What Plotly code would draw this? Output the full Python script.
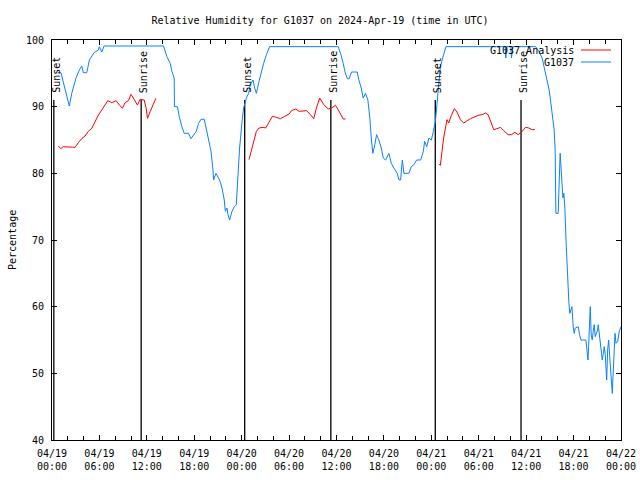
import pandas as pd
import plotly.graph_objects as go

START = pd.Timestamp("2024-04-19 00:00")

# G1037 observed relative humidity: hours since 2024-04-19 00:00 UTC, percent
obs_hours = [0.76, 1.14, 1.36, 1.65, 1.86, 2.07, 2.19, 2.50, 2.70, 3.04, 3.46, 3.76, 3.97, 4.40,
             4.73, 5.03, 5.32, 5.87, 5.99, 6.30, 6.59, 14.11, 14.54, 14.96, 15.17, 15.46, 15.50,
             15.88, 16.10, 16.44, 16.73, 17.28, 17.58, 17.83, 18.25, 18.55, 18.85, 19.27, 19.52,
             19.81, 20.12, 20.37, 20.45, 20.53, 20.75, 21.21, 21.51, 21.80, 21.93, 22.14, 22.27,
             22.47, 22.78, 23.07, 23.32, 23.54, 23.74, 24.05, 24.25, 24.59, 24.88, 25.10, 25.44,
             25.64, 25.86, 26.20, 26.49, 26.78, 27.13, 27.54, 36.21, 36.51, 36.85, 37.05, 37.36,
             37.61, 37.90, 38.62, 38.83, 39.13, 39.38, 39.68, 39.97, 40.22, 40.40, 40.60, 40.85,
             41.07, 41.36, 41.67, 41.92, 42.21, 42.63, 42.93, 43.26, 43.69, 43.90, 44.11, 44.33,
             44.53, 45.16, 45.47, 45.80, 46.14, 46.65, 46.99, 47.15, 47.41, 47.70, 48.00, 48.26,
             48.51, 48.71, 48.93, 49.14, 49.44, 49.69, 49.85, 57.36, 57.42, 57.55, 58.06, 58.14,
             58.31, 61.19, 61.61, 62.02, 62.36, 62.66, 62.91, 63.13, 63.34, 63.54, 63.67, 63.68,
             63.76, 64.05, 64.09, 64.18, 64.30, 64.39, 64.52, 64.65, 64.77, 64.90, 65.03, 65.15,
             65.28, 65.41, 65.53, 65.66, 65.79, 65.95, 66.08, 66.21, 66.59, 66.76, 66.93, 67.56,
             67.69, 67.82, 67.90, 68.03, 68.11, 68.23, 68.36, 68.49, 68.61, 68.74, 68.92, 69.04,
             69.12, 69.25, 69.37, 69.50, 69.63, 69.76, 69.88, 70.01, 70.14, 70.19, 70.31, 70.44,
             70.57, 70.69, 70.82, 70.90, 70.99, 71.11, 71.24, 71.37, 71.58, 71.78, 71.91, 72.00]
obs_rh = [95.1, 95.1, 94.0, 92.5, 91.5, 90.3, 90.1, 92.0, 93.0, 94.3, 95.5, 96.1, 95.1, 95.1,
          97.0, 97.5, 98.1, 98.5, 99.0, 98.2, 99.1, 99.1, 97.5, 96.5, 95.3, 94.3, 90.0,
          90.0, 88.5, 87.0, 86.0, 86.0, 85.2, 85.6, 86.3, 87.5, 88.1, 88.1, 86.8,
          85.3, 83.3, 80.5, 79.0, 79.3, 80.0, 79.0, 77.8, 76.0, 74.3, 74.8, 73.8,
          73.0, 74.3, 75.0, 75.3, 79.8, 83.8, 87.8, 89.8, 91.3, 92.0, 93.3, 94.0,
          92.8, 92.0, 93.8, 95.3, 96.5, 97.8, 99.0, 99.0, 98.0, 96.5, 95.3, 94.2,
          94.2, 95.2, 95.2, 94.0, 92.8, 91.3, 92.0, 91.0, 88.3, 85.3, 83.0, 84.3,
          85.8, 85.0, 83.8, 82.3, 82.0, 83.0, 81.5, 80.8, 80.0, 79.0, 79.0, 82.0,
          80.0, 80.0, 81.0, 81.3, 82.0, 82.0, 83.3, 84.8, 84.0, 85.3, 85.0, 86.3,
          87.8, 90.3, 93.8, 96.0, 97.3, 98.5, 99.0, 99.0, 97.3, 99.0, 99.0, 97.3,
          99.0, 99.0, 98.3, 97.3, 95.5, 93.8, 92.5, 90.5, 88.5, 86.5, 83.5, 77.3,
          74.0, 74.0, 76.3, 80.8, 83.0, 81.3, 77.8, 76.3, 77.0, 74.8, 70.3, 66.3,
          62.8, 60.5, 59.0, 59.8, 60.0, 57.0, 56.0, 56.8, 57.0, 55.8, 55.0, 55.0,
          53.8, 52.0, 54.0, 58.0, 60.0, 55.8, 55.0, 56.3, 57.3, 55.5, 56.3, 56.5,
          57.3, 55.8, 55.0, 52.8, 52.0, 53.0, 54.0, 52.8, 50.3, 49.0, 53.5, 55.0,
          52.5, 50.3, 48.0, 47.0, 49.5, 54.0, 56.0, 54.5, 54.8, 56.3, 57.0, 57.0]

# G1037 Analysis (three daily runs, None = gap)
ana_hours = [0.80, 1.10, 1.43, 1.86, 2.92, 3.33, 3.76, 4.18, 4.60, 5.03, 5.45, 5.87, 6.30, 6.72,
             7.06, 7.57, 8.11, 8.53, 8.91, 9.25, 9.67, 10.01, 10.39, 10.81, 11.15, 11.66, 11.92,
             12.08, 12.42, 12.84, 13.14, None,
             24.93, 25.22, 25.52, 25.86, 26.20, 26.71, 27.04, 27.47, 27.89, 28.39, 28.90, 29.45,
             30.00, 30.30, 30.84, 31.27, 31.78, 32.20, 32.70, 33.12, 33.46, 33.88, 34.39, 34.95,
             35.37, 35.87, 36.21, 36.63, 36.85, 37.14, None,
             49.02, 49.14, 49.35, 49.56, 49.98, 50.20, 50.54, 50.92, 51.25, 51.68, 52.10, 52.52,
             52.95, 53.37, 53.91, 54.42, 54.85, 55.18, 55.48, 55.90, 56.32, 56.75, 57.17, 57.71,
             58.14, 58.56, 58.98, 59.41, 59.92, 60.34, 60.76, 61.10]
ana_rh = [84.1, 83.7, 84.0, 84.0, 83.9, 84.6, 85.2, 85.6, 86.3, 86.75, 87.75, 88.75, 89.5, 90.25,
          90.9, 90.6, 90.9, 90.25, 89.75, 90.6, 90.9, 91.85, 91.0, 90.25, 91.1, 91.0, 89.75,
          88.25, 89.25, 90.5, 91.25, None,
          82.05, 83.3, 84.8, 86.3, 86.8, 86.9, 86.8, 87.8, 88.55, 88.4, 88.2, 88.55,
          88.9, 89.4, 89.65, 89.3, 89.4, 89.4, 88.8, 88.2, 89.8, 91.3, 90.3, 89.65,
          89.8, 90.2, 89.55, 88.55, 88.15, 88.15, None,
          81.4, 81.2, 83.3, 85.3, 88.05, 87.55, 88.7, 89.7, 89.2, 88.05, 87.55, 87.9,
          88.2, 88.4, 88.7, 88.8, 89.05, 88.8, 87.8, 86.55, 86.7, 86.9, 86.4, 85.8,
          85.8, 86.15, 85.8, 86.2, 86.9, 86.8, 86.55, 86.55]

# Sun events
sun_labels = ["Sunset", "Sunrise", "Sunset", "Sunrise", "Sunset", "Sunrise"]
sun_times = ["2024-04-19 00:14", "2024-04-19 11:17", "2024-04-20 00:23",
             "2024-04-20 11:17", "2024-04-21 00:30", "2024-04-21 11:21"]
sun_line_bottom = 40
sun_line_top = 91

COLOR_OBS = "#0a80ff"
COLOR_ANA = "#ff0000"
FONT = "DejaVu Sans Mono"


def to_time(hours):
    return [None if h is None else START + pd.to_timedelta(h, unit="h") for h in hours]


fig = go.Figure()

for t in sun_times:
    fig.add_trace(go.Scatter(x=[t, t], y=[sun_line_bottom, sun_line_top], mode="lines",
                             line=dict(color="black", width=1.3), showlegend=False,
                             hoverinfo="skip"))

fig.add_trace(go.Scatter(x=to_time(ana_hours), y=ana_rh, mode="lines", name="G1037 Analysis",
                         line=dict(color=COLOR_ANA, width=1), connectgaps=False))
fig.add_trace(go.Scatter(x=to_time(obs_hours), y=obs_rh, mode="lines", name="G1037",
                         line=dict(color=COLOR_OBS, width=1)))

for lab, t in zip(sun_labels, sun_times):
    fig.add_annotation(x=t, y=sun_line_top, text=lab, textangle=-90, showarrow=False,
                       xanchor="center", yanchor="bottom", xshift=2, yshift=5,
                       font=dict(family=FONT, size=10, color="black"))

# manual gnuplot-style legend (text right, sample line left of frame edge)
PW, PH = 569.0, 400.0
legend_items = [("G1037 Analysis", COLOR_ANA, 50), ("G1037", COLOR_OBS, 62)]
for text, col, py in legend_items:
    yp = (440 - py) / PH
    fig.add_annotation(xref="paper", yref="paper", x=(576 - 52) / PW, y=yp, text=text,
                       showarrow=False, xanchor="right", yanchor="middle",
                       font=dict(family=FONT, size=10, color="black"))
    fig.add_shape(type="line", xref="paper", yref="paper", x0=(581 - 52) / PW,
                  x1=(611 - 52) / PW, y0=yp, y1=yp, line=dict(color=col, width=1))

fig.add_annotation(xref="paper", yref="paper", x=0, y=0.5, xshift=-40, text="Percentage",
                   textangle=-90, showarrow=False, xanchor="center", yanchor="middle",
                   font=dict(family=FONT, size=10, color="black"))

fig.update_layout(
    width=640, height=480,
    margin=dict(l=52, r=19, t=40, b=40, autoexpand=False),
    paper_bgcolor="white", plot_bgcolor="white",
    showlegend=False,
    title=dict(text="Relative Humidity for G1037 on 2024-Apr-19 (time in UTC)",
               x=0.5, xanchor="center", y=1 - 20 / 480, yanchor="middle",
               font=dict(family=FONT, size=10, color="black")),
    font=dict(family=FONT, size=10, color="black"),
)
fig.update_xaxes(type="date", range=["2024-04-19 00:00", "2024-04-22 00:00"],
                 dtick=6 * 3600 * 1000, tick0="2024-04-19 00:00",
                 tickformat="%m/%d<br>%H:%M", ticks="inside", ticklen=5, tickcolor="black",
                 ticklabelstandoff=4,
                 minor=dict(dtick=2 * 3600 * 1000, ticks="inside", ticklen=4, tickcolor="black"),
                 showline=True, linecolor="black", linewidth=1, mirror="allticks",
                 showgrid=False, zeroline=False, tickfont=dict(family=FONT, size=10))
fig.update_yaxes(range=[40, 100], dtick=10, ticks="inside", ticklen=5, tickcolor="black",
                 ticklabelstandoff=5,
                 showline=True, linecolor="black", linewidth=1, mirror="allticks",
                 showgrid=False, zeroline=False, tickfont=dict(family=FONT, size=10))

fig.write_html("out.html", config={"displayModeBar": False},
               post_script="document.body.style.margin='0';document.body.style.overflow='hidden';")
